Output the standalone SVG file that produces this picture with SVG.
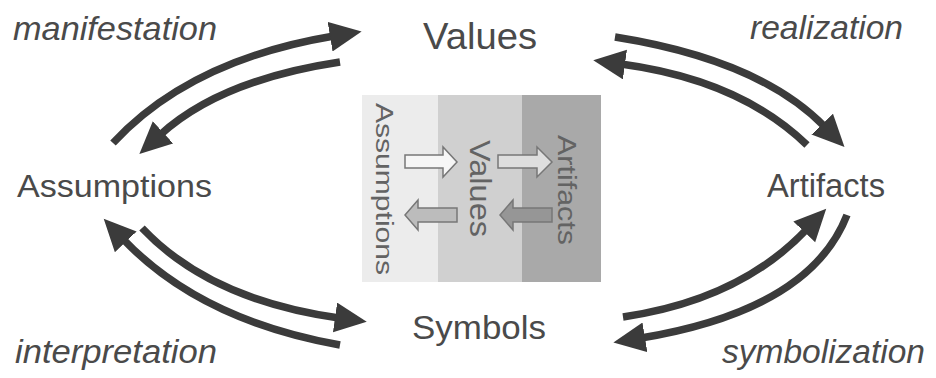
<svg xmlns="http://www.w3.org/2000/svg" width="936" height="378" viewBox="0 0 936 378">
<style>
.lbl{font-family:"Liberation Sans",Arial,sans-serif;fill:#4a4a4a;}
.it{font-style:italic;}
.conn{fill:none;stroke:#3b3b3b;stroke-width:7.5;}
.inner{font-family:"Liberation Sans",Arial,sans-serif;fill:#636363;}
.blk{stroke:#777;stroke-width:1.5;stroke-linejoin:miter;}
</style>
<defs>
<marker id="ah" markerUnits="userSpaceOnUse" markerWidth="36" markerHeight="32" refX="4" refY="15" orient="auto" viewBox="0 0 36 32">
<path d="M0,0 L32,15 L0,30 Z" fill="#3b3b3b"/>
</marker>
</defs>
<rect width="936" height="378" fill="#fff"/>

<g id="center-box">
<rect x="362" y="95" width="76" height="187" fill="#ececec"/>
<rect x="438" y="95" width="84" height="187" fill="#d0d0d0"/>
<rect x="522" y="95" width="79" height="187" fill="#a9a9a9"/>
<text class="inner" font-size="23" textLength="172" lengthAdjust="spacingAndGlyphs" transform="translate(376,103) rotate(90)">Assumptions</text>
<text class="inner" font-size="29" textLength="97" lengthAdjust="spacingAndGlyphs" transform="translate(470,140) rotate(90)">Values</text>
<text class="inner" font-size="26" textLength="110" lengthAdjust="spacingAndGlyphs" transform="translate(558,135) rotate(90)">Artifacts</text>
<path class="blk" fill="#f6f6f6" d="M405,155 L443,155 L443,147 L457,162 L443,177 L443,168 L405,168 Z"/>
<path class="blk" fill="#dedede" d="M498,155 L537,155 L537,147 L552,162 L537,177 L537,168 L498,168 Z"/>
<path class="blk" fill="#bcbcbc" d="M457,208 L418,208 L418,200 L405,215 L418,230 L418,222 L457,222 Z"/>
<path class="blk" fill="#969696" d="M552,208 L513,208 L513,200 L500,215 L513,230 L513,222 L552,222 Z"/>
</g>

<g id="connectors">
<path class="conn" marker-end="url(#ah)" d="M113,143 Q190,60 334,36"/>
<path class="conn" marker-end="url(#ah)" d="M340,62 Q220,80 160,135"/>
<path class="conn" marker-end="url(#ah)" d="M615,37 Q760,60 825,127"/>
<path class="conn" marker-end="url(#ah)" d="M807,145 Q740,80 621,64"/>
<path class="conn" marker-end="url(#ah)" d="M340,345 Q200,320 123,239"/>
<path class="conn" marker-end="url(#ah)" d="M142,228 Q210,300 339,318"/>
<path class="conn" marker-end="url(#ah)" d="M623,317 Q740,300 807,229"/>
<path class="conn" marker-end="url(#ah)" d="M847,215 Q810,310 641,338"/>
</g>

<g id="node-values"><text class="lbl" x="423" y="49" font-size="37" textLength="114" lengthAdjust="spacingAndGlyphs">Values</text></g>
<g id="node-assumptions"><text class="lbl" x="17" y="197" font-size="32" textLength="195" lengthAdjust="spacingAndGlyphs">Assumptions</text></g>
<g id="node-artifacts"><text class="lbl" x="767" y="197" font-size="33" textLength="118" lengthAdjust="spacingAndGlyphs">Artifacts</text></g>
<g id="node-symbols"><text class="lbl" x="412" y="339" font-size="33" textLength="134" lengthAdjust="spacingAndGlyphs">Symbols</text></g>

<g id="label-manifestation"><text class="lbl it" x="13" y="40" font-size="33" textLength="204" lengthAdjust="spacingAndGlyphs">manifestation</text></g>
<g id="label-realization"><text class="lbl it" x="750" y="39" font-size="33" textLength="153" lengthAdjust="spacingAndGlyphs">realization</text></g>
<g id="label-interpretation"><text class="lbl it" x="15" y="363" font-size="33" textLength="202" lengthAdjust="spacingAndGlyphs">interpretation</text></g>
<g id="label-symbolization"><text class="lbl it" x="722" y="363" font-size="33" textLength="203" lengthAdjust="spacingAndGlyphs">symbolization</text></g>
</svg>
